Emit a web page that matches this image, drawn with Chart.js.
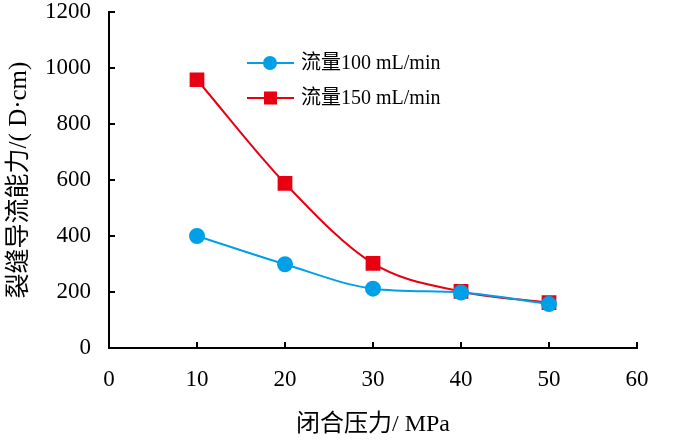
<!DOCTYPE html>
<html>
<head>
<meta charset="utf-8">
<script src="https://cdn.jsdelivr.net/npm/chart.js@4"></script>
<style>
  html, body { margin: 0; padding: 0; background: #fff; }
  #wrap { width: 700px; height: 443px; }
</style>
</head>
<body>
<div id="wrap"><canvas id="myChart"></canvas></div>
<script>
const pressure = [10, 20, 30, 40, 50];
const flow100 = [400, 299, 212, 198, 157];
const flow150 = [958, 588, 302, 202, 162];
const seriesNames = ['流量100 mL/min', '流量150 mL/min'];
const xTicks = [0, 10, 20, 30, 40, 50, 60];
const yTicks = [0, 200, 400, 600, 800, 1000, 1200];

const blue = '#00A0E9';
const red = '#E60012';
const font = "'Liberation Serif', 'Noto Sans CJK SC', serif";

// ticks point inward, so draw them here instead of using grid ticks
const innerTicks = {
  id: 'innerTicks',
  afterDraw(chart) {
    const c = chart.ctx, a = chart.chartArea;
    const x = chart.scales.x, y = chart.scales.y;
    c.save();
    c.strokeStyle = '#000';
    c.lineWidth = 2;
    c.beginPath();
    xTicks.forEach(v => {
      const px = x.getPixelForValue(v);
      c.moveTo(px, a.bottom); c.lineTo(px, a.bottom - 6);
    });
    yTicks.forEach(v => {
      const py = y.getPixelForValue(v);
      c.moveTo(a.left, py); c.lineTo(a.left + 6, py);
    });
    c.stroke();
    c.restore();
  }
};

const innerLegend = {
  id: 'innerLegend',
  afterDraw(chart) {
    const c = chart.ctx;
    const rows = [
      { name: seriesNames[0], color: blue, shape: 'circle', y: 63 },
      { name: seriesNames[1], color: red, shape: 'square', y: 98 }
    ];
    c.save();
    rows.forEach(r => {
      c.strokeStyle = r.color;
      c.fillStyle = r.color;
      c.lineWidth = 2;
      c.beginPath(); c.moveTo(247, r.y); c.lineTo(294, r.y); c.stroke();
      if (r.shape === 'circle') {
        c.beginPath(); c.arc(270, r.y, 7, 0, Math.PI * 2); c.fill();
      } else {
        c.fillRect(264, r.y - 6.5, 13, 13);
      }
      c.fillStyle = '#000';
      c.font = '20px ' + font;
      c.textBaseline = 'middle';
      c.fillText(r.name, 301, r.y + 1);
    });
    c.restore();
  }
};

new Chart(document.getElementById('myChart'), {
  type: 'line',
  data: {
    datasets: [{
      label: seriesNames[0],
      data: pressure.map((p, i) => ({ x: p, y: flow100[i] })),
      borderColor: blue,
      backgroundColor: blue,
      borderWidth: 2,
      pointStyle: 'circle',
      pointRadius: 7,
      pointHoverRadius: 7,
      cubicInterpolationMode: 'monotone'
    }, {
      label: seriesNames[1],
      data: pressure.map((p, i) => ({ x: p, y: flow150[i] })),
      borderColor: red,
      backgroundColor: red,
      borderWidth: 2,
      pointStyle: 'rect',
      pointRadius: 9,
      pointHoverRadius: 9,
      cubicInterpolationMode: 'monotone'
    }]
  },
  options: {
    responsive: true,
    maintainAspectRatio: false,
    animation: false,
    events: [],
    layout: { padding: { top: 12, right: 63, left: 0, bottom: 0 } },
    plugins: { legend: { display: false }, tooltip: { enabled: false } },
    scales: {
      x: {
        type: 'linear',
        min: 0, max: 60,
        afterFit(s) { s.height = 95; s.paddingLeft = 0; s.paddingRight = 0; },
        afterBuildTicks(s) { s.ticks = xTicks.map(v => ({ value: v })); },
        grid: { display: false, drawTicks: false },
        border: { color: '#000', width: 2 },
        ticks: { color: '#000', padding: 18, font: { family: font, size: 23 }, callback: v => String(v) },
        title: {
          display: true, text: '闭合压力/ MPa', color: '#000',
          padding: { top: 10 },
          font: { family: font, size: 24 }
        }
      },
      y: {
        min: 0, max: 1200,
        afterFit(s) { s.width = 109; s.paddingTop = 0; s.paddingBottom = 0; },
        afterBuildTicks(s) { s.ticks = yTicks.map(v => ({ value: v })); },
        grid: { display: false, drawTicks: false },
        border: { color: '#000', width: 2 },
        ticks: { color: '#000', padding: 18, font: { family: font, size: 23 }, callback: v => String(v) },
        title: {
          display: true, text: '裂缝导流能力/( D·cm)', color: '#000',
          padding: { bottom: 0 },
          font: { family: font, size: 25 }
        }
      }
    }
  },
  plugins: [innerTicks, innerLegend]
});
</script>
</body>
</html>
